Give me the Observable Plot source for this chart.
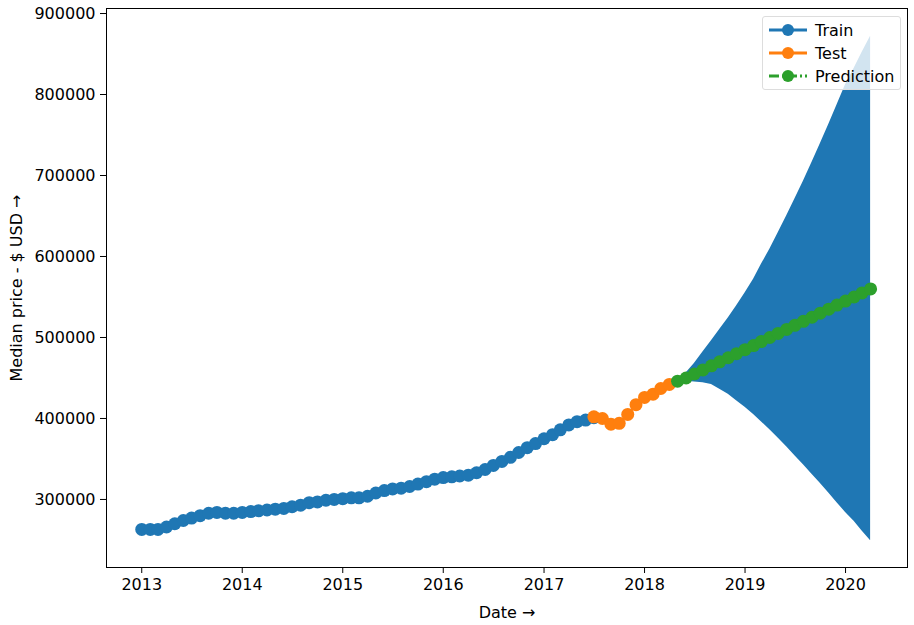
<!DOCTYPE html>
<html><head><meta charset="utf-8">
<script src="https://cdn.jsdelivr.net/npm/d3@7"></script>
<script src="https://cdn.jsdelivr.net/npm/@observablehq/plot@0.6"></script>
<style>
body{margin:0;background:#fff;font-family:"DejaVu Sans",sans-serif;}
#wrap{position:relative;width:914px;height:625px;}
#legend{position:absolute;left:762px;top:16px;width:137px;height:72px;background:rgba(255,255,255,0.8);border:1px solid #ddd;border-radius:3px;font-size:16px;}
.row{position:absolute;left:6px;height:22px;display:flex;align-items:center;}
.row span{margin-left:8px;}
</style></head><body>
<div id="wrap"><div id="chart"></div>
<div id="legend">
<div class="row" style="top:2px"><svg width="38" height="14"><line x1="0" y1="7" x2="38" y2="7" stroke="#1f77b4" stroke-width="3"/><circle cx="19" cy="7" r="6" fill="#1f77b4"/></svg><span>Train</span></div>
<div class="row" style="top:25px"><svg width="38" height="14"><line x1="0" y1="7" x2="38" y2="7" stroke="#ff7f0e" stroke-width="3"/><circle cx="19" cy="7" r="6" fill="#ff7f0e"/></svg><span>Test</span></div>
<div class="row" style="top:48px"><svg width="38" height="14"><line x1="0" y1="7" x2="38" y2="7" stroke="#2ca02c" stroke-width="3" stroke-dasharray="10,3,2,3"/><circle cx="19" cy="7" r="6" fill="#2ca02c"/></svg><span>Prediction</span></div>
</div></div>
<script>
const trainValues = [263,263,263,266,270,274,277,280,283,284,283,283,
 284,285,286,287,288,289,291,293,296,297,299,300,
 301,302,302,304,308,311,313,314,316,319,322,325,
 327,328,329,330,333,337,342,347,352,358,364,369,
 375,380,386,392,396,398,401];
const testValues = [402,400,393,394,405,417,426,430,437,442];
const predValues = [446,450,455,460,465,470,475,480,485,490,495,500,505,510,515,520,525,530,535,540,545,550,555,560];
const upperValues = [446,456,468,482,496,510,524,539,555,572,590,609,629,650,671,693,716,739,763,787,812,832,852,872];
const lowerValues = [446,446,445,444,442,436,430,422,414,405,396,386,376,365,354,343,331,320,308,296,284,273,261,249];
const tickYears = [2013,2014,2015,2016,2017,2018,2019,2020];

const m = (y, mo) => new Date(Date.UTC(y, mo, 1));
const series = (vals, startY, startM) => vals.map((v, i) => ({date: d3.utcMonth.offset(m(startY, startM), i), v: v * 1000}));
const train = series(trainValues, 2013, 0);
const test = series(testValues, 2017, 6);
const pred = series(predValues, 2018, 4);
const band = upperValues.map((u, i) => ({date: d3.utcMonth.offset(m(2018, 4), i), hi: u * 1000, lo: lowerValues[i] * 1000}));

const chart = Plot.plot({
  width: 914, height: 625,
  marginLeft: 106, marginRight: 7, marginTop: 8, marginBottom: 58,
  style: {fontSize: "16px", fontFamily: "DejaVu Sans, sans-serif", color: "#000"},
  x: {type: "utc", domain: [new Date(Date.UTC(2012,7,26)), new Date(Date.UTC(2020,7,13))],
      ticks: tickYears.map(y => m(y, 0)), tickFormat: d3.utcFormat("%Y"), label: "Date", labelAnchor: "center", labelOffset: 50, tickSize: 6, tickPadding: 5},
  y: {domain: [216000, 906200], ticks: d3.range(300000, 900001, 100000), tickFormat: d => String(d), label: "Median price - $ USD", labelAnchor: "center", labelOffset: 96, tickSize: 6, tickPadding: 5},
  marks: [
    Plot.areaY(band, {x: "date", y1: "lo", y2: "hi", fill: "#1f77b4"}),
    Plot.line(train, {x: "date", y: "v", stroke: "#1f77b4", strokeWidth: 2.5}),
    Plot.dot(train, {x: "date", y: "v", fill: "#1f77b4", r: 6.5}),
    Plot.line(test, {x: "date", y: "v", stroke: "#ff7f0e", strokeWidth: 2.5}),
    Plot.dot(test, {x: "date", y: "v", fill: "#ff7f0e", r: 6.5}),
    Plot.line(pred, {x: "date", y: "v", stroke: "#2ca02c", strokeWidth: 2.5, strokeDasharray: "10,3,2,3"}),
    Plot.dot(pred, {x: "date", y: "v", fill: "#2ca02c", r: 6.5}),
    Plot.frame({stroke: "#000", strokeWidth: 1})
  ]
});
document.getElementById("chart").appendChild(chart);
</script></body></html>
